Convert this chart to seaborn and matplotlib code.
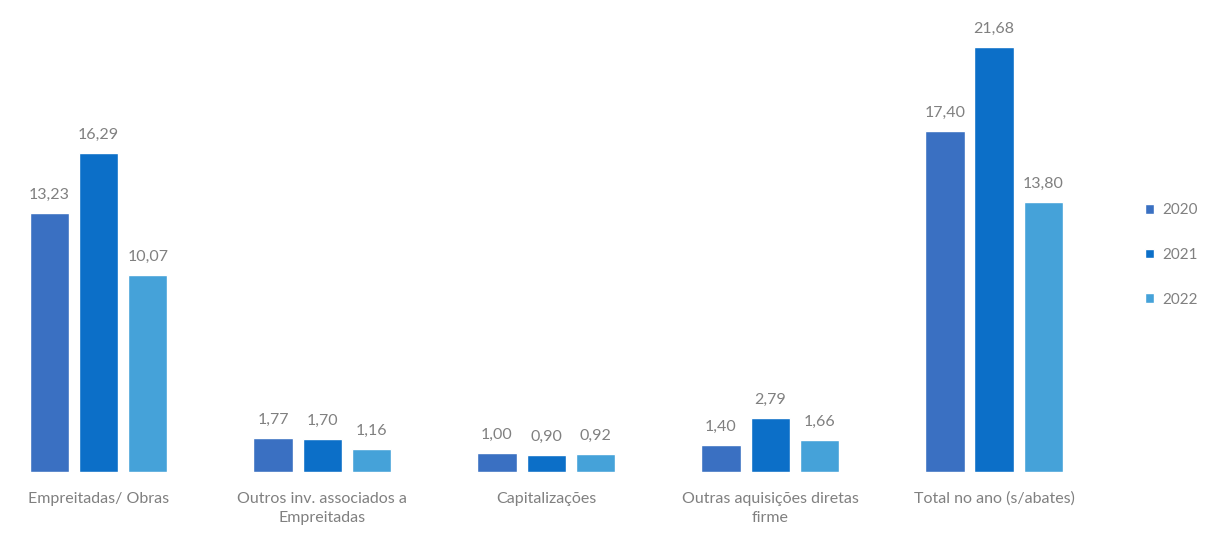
import matplotlib
matplotlib.use("Agg")
import matplotlib.pyplot as plt
import seaborn as sns
import pandas as pd

categories = ["Empreitadas/ Obras", "Outros inv. associados a\nEmpreitadas", "Capitalizações",
              "Outras aquisições diretas\nfirme", "Total no ano (s/abates)"]
years = ["2020", "2021", "2022"]
v2020 = [13.23, 1.77, 1.00, 1.40, 17.40]
v2021 = [16.29, 1.70, 0.90, 2.79, 21.68]
v2022 = [10.07, 1.16, 0.92, 1.66, 13.80]
colors = ["#3A70C2", "#0C6FC8", "#45A2D9"]

rows = []
for y, vals in zip(years, [v2020, v2021, v2022]):
    for c, v in zip(categories, vals):
        rows.append({"cat": c, "year": y, "val": v})
df = pd.DataFrame(rows)

sns.set_style("white")
plt.rcParams['font.family'] = ['Lato', 'DejaVu Sans']

fig = plt.figure(figsize=(12.09, 5.36), dpi=100)
ax = fig.add_axes([0.0, 0.119, 0.913, 0.881])
sns.barplot(data=df, x="cat", y="val", hue="year", palette=colors, width=0.66,
            gap=0.2, ax=ax, saturation=1)

for cont in ax.containers:
    labels = [f"{b.get_height():.2f}".replace(".", ",") for b in cont]
    ax.bar_label(cont, labels=labels, padding=8, color="#808080", fontsize=11.5)

ax.set_xlim(-0.44, 4.49)
ax.set_ylim(0, 24.1)
ax.set_xlabel("")
ax.set_ylabel("")
ax.set_yticks([])
ax.tick_params(axis="x", length=0, labelsize=11.5, labelcolor="#808080", pad=14)
for lbl in ax.get_xticklabels():
    lbl.set_linespacing(1.5)
for s in ax.spines.values():
    s.set_visible(False)

leg = ax.legend(loc="center left", bbox_to_anchor=(1.025, 0.46), frameon=False,
                fontsize=11, handlelength=0.6, handleheight=0.6, handletextpad=0.5,
                labelspacing=2.0, labelcolor="#808080")

fig.savefig("out.png", dpi=100)
